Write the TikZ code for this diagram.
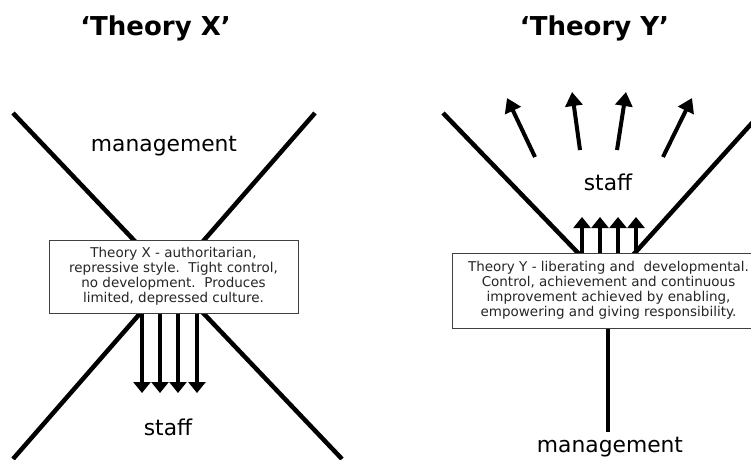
\documentclass[tikz,border=0pt]{standalone}
\usepackage{fontspec}
\setmainfont{DejaVu Sans}
\usetikzlibrary{arrows.meta}
\begin{document}
\begin{tikzpicture}[x=1pt,y=-1pt,
  bar/.style={line width=4.5pt},
  shaft/.style={line width=4pt,-{Triangle[width=17pt,length=11pt]}},
  dshaft/.style={line width=4pt,-{Triangle[width=17pt,length=14pt]}},
  lbl/.style={font=\fontsize{21.8}{24}\selectfont, inner sep=0pt},
  ttl/.style={font=\bfseries\fontsize{26}{30}\selectfont, inner sep=0pt},
  txtbox/.style={draw=black!75, line width=1pt, fill=white, align=center,
    text=black!85, font=\fontsize{13.5}{15}\selectfont, inner sep=0pt}
]
\useasboundingbox (0,0) rectangle (751,459);
\clip (0,0) rectangle (751,459);
\fill[white] (0,0) rectangle (751,459);

% titles
\node[ttl] (tx) at (155.5,28) {‘Theory X’};
\node[ttl] (ty) at (594.5,28) {‘Theory Y’};

% ---- Theory X ----
\coordinate (xa) at (13,113);
\coordinate (xb) at (342,459);
\coordinate (xc) at (315,113);
\coordinate (xd) at (13,459);
\draw[bar] (xa) -- (xb);
\draw[bar] (xc) -- (xd);

\node[txtbox, minimum width=249pt, minimum height=73pt] (bx) at (173.5,276.5)
  {Theory X - authoritarian,\\repressive style.\ \ Tight control,\\no development.\ \ Produces\\limited, depressed culture.};

\coordinate (d1) at (142,393);
\coordinate (d2) at (160,393);
\coordinate (d3) at (178,393);
\coordinate (d4) at (197,393);
\foreach \c in {d1,d2,d3,d4} \draw[shaft] (bx.south -| \c) -- (\c);

\node[lbl] (mx) at (164,146) {management};
\node[lbl] (sx) at (168,427) {staff};

% ---- Theory Y ----
\coordinate (ya) at (443,113);
\coordinate (yb) at (580,255);
\coordinate (yc) at (761,113);
\coordinate (yd) at (633,255);
\draw[bar] (ya) -- (yb);
\draw[bar] (yc) -- (yd);

\node[txtbox, minimum width=313pt, minimum height=75pt] (by) at (608.5,290.5)
  {Theory Y - liberating and\ \ developmental.\\Control, achievement and continuous\\improvement achieved by enabling,\\empowering and giving responsibility.};

\coordinate (u1) at (582,217);
\coordinate (u2) at (600,217);
\coordinate (u3) at (618,217);
\coordinate (u4) at (636,217);
\foreach \c in {u1,u2,u3,u4} \draw[shaft] (by.north -| \c) -- (\c);

\coordinate (t1) at (535,157); \coordinate (h1) at (507,98);
\coordinate (t2) at (580,150); \coordinate (h2) at (572,92);
\coordinate (t3) at (617,150); \coordinate (h3) at (626,92);
\coordinate (t4) at (663,157); \coordinate (h4) at (692,98);
\draw[dshaft] (t1) -- (h1);
\draw[dshaft] (t2) -- (h2);
\draw[dshaft] (t3) -- (h3);
\draw[dshaft] (t4) -- (h4);

\coordinate (mb) at (608,432);
\draw[bar] (by.south -| mb) -- (mb);

\node[lbl] (sy) at (608,182) {staff};
\node[lbl] (my) at (610,447) {management};
\end{tikzpicture}
\end{document}
